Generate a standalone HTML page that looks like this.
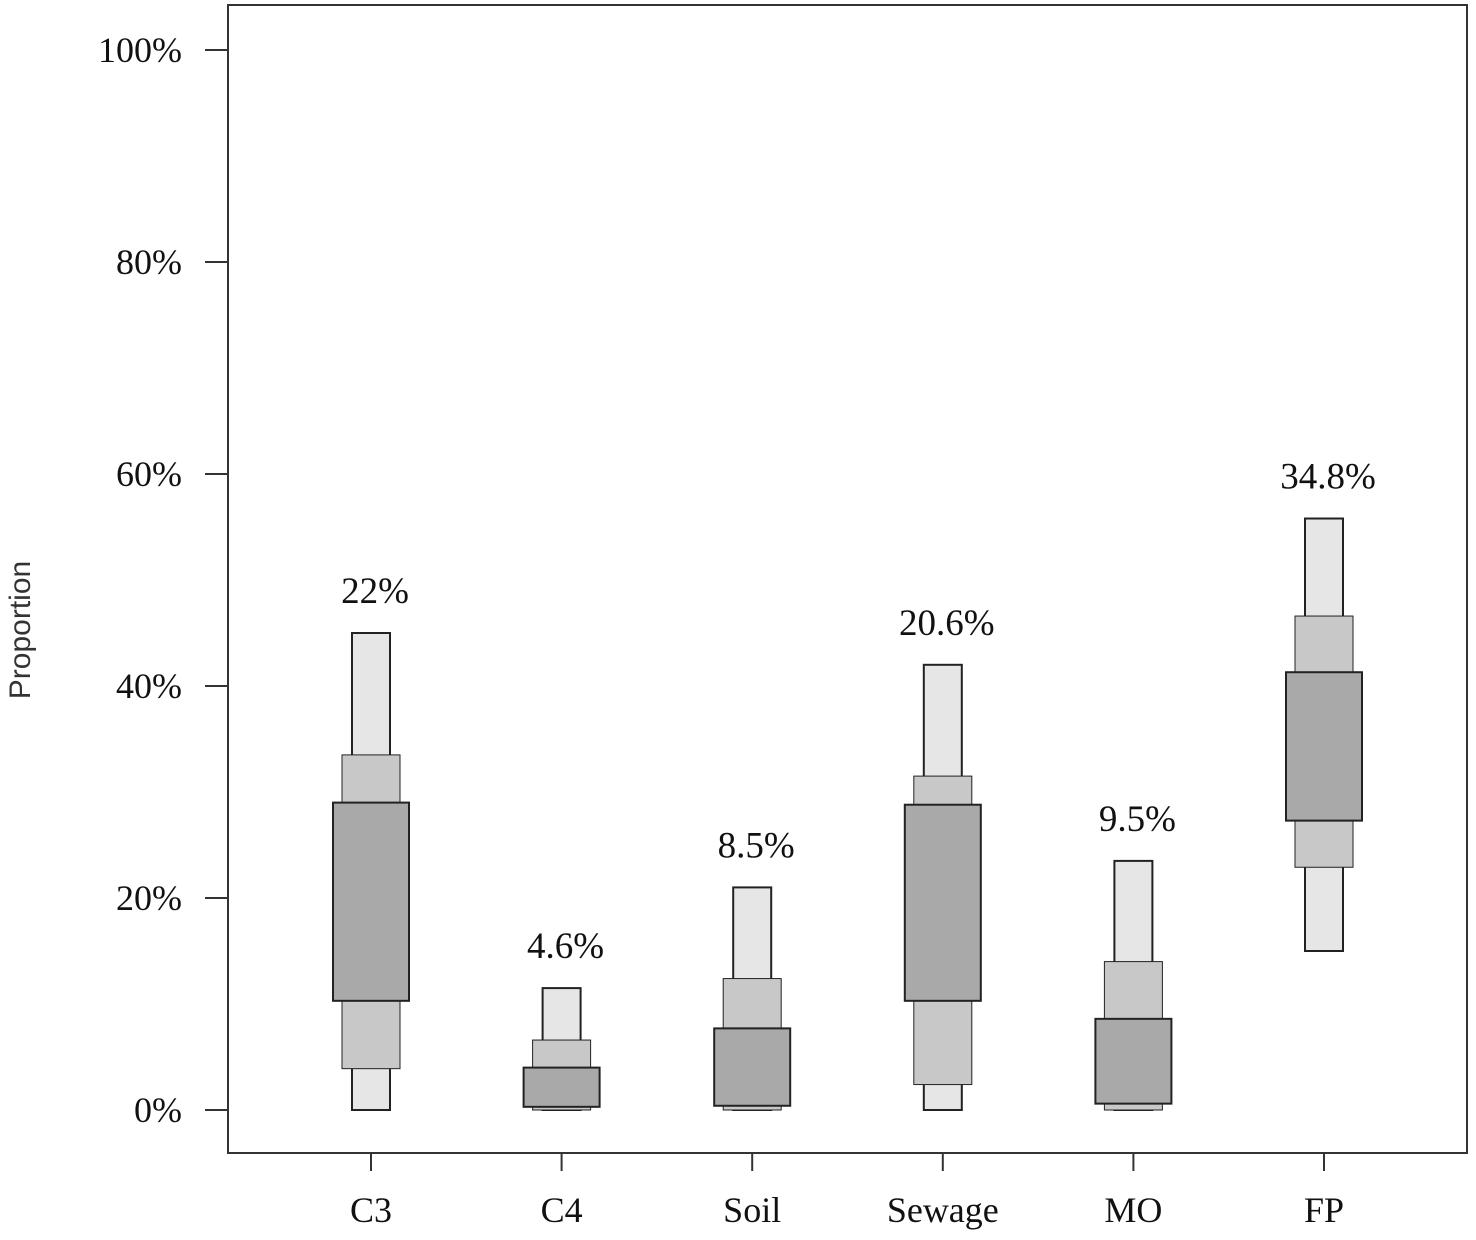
<!DOCTYPE html>
<html><head><meta charset="utf-8"><style>
html,body{margin:0;padding:0;background:#fff;}
svg{display:block;font-family:"Liberation Serif",serif;}
</style></head><body>
<svg id="chart" width="1476" height="1240">
<rect x="228" y="5" width="1239" height="1148" fill="none" stroke="#333" stroke-width="2"/>
<text x="30" y="630" transform="rotate(-90 30 630)" text-anchor="middle" font-family="Liberation Sans, sans-serif" font-size="30" fill="#333">Proportion</text>
<g id="yaxis"></g><g id="xaxis"></g><g id="boxes"></g>
</svg>
<script>
const categories=["C3","C4","Soil","Sewage","MO","FP"];
const labels=["22%","4.6%","8.5%","20.6%","9.5%","34.8%"];
const lo95=[0,0,0,0,0,15];
const hi95=[45,11.5,21,42,23.5,55.8];
const lo75=[3.9,0,0,2.4,0,22.9];
const hi75=[33.5,6.6,12.4,31.5,14,46.6];
const lo50=[10.3,0.3,0.4,10.3,0.6,27.3];
const hi50=[29,4,7.7,28.8,8.6,41.3];
const yTicks=[0,20,40,60,80,100];
const yTickLabels=["0%","20%","40%","60%","80%","100%"];

const NS="http://www.w3.org/2000/svg";
function y(v){return 1110-v*10.6;}
function x(i){return 371+i*190.6;}
function mk(tag,attrs,parent,text){const e=document.createElementNS(NS,tag);for(const k in attrs)e.setAttribute(k,attrs[k]);if(text!==undefined)e.textContent=text;parent.appendChild(e);return e;}
const ya=document.getElementById('yaxis'),xa=document.getElementById('xaxis'),bx=document.getElementById('boxes');
yTicks.forEach((t,i)=>{
  const l=mk('line',{x1:205,x2:228,y1:y(t),y2:y(t),stroke:'#333','stroke-width':2},ya);
  
  
  const tx=mk('text',{x:182,y:y(t)+12,'text-anchor':'end','font-size':36,fill:'#111'},ya,yTickLabels[i]);
  
  
});
categories.forEach((c,i)=>{
  const cx=x(i);
  const l=mk('line',{x1:cx,x2:cx,y1:1153,y2:1171,stroke:'#333','stroke-width':2},xa);
  
  
  const tx=mk('text',{x:cx,y:1222,'text-anchor':'middle','font-size':36,fill:'#111'},xa,c);
  
  
  const g=mk('g',{},bx);
  
  
  [[lo95,hi95,38,'#e6e6e6'],[lo75,hi75,58,'#c8c8c8'],[lo50,hi50,76,'#a9a9a9']].forEach(([lo,hi,w,f],k)=>{
    const r=mk('rect',{x:cx-w/2,y:y(hi[i]),width:w,height:y(lo[i])-y(hi[i]),fill:f,stroke:'#222','stroke-width':k==1?1:2},g);
    
    
  });
  const lt=mk('text',{x:cx+4,y:y(hi95[i])-30,'text-anchor':'middle','font-size':37,fill:'#111'},bx,labels[i]);
  
  
});
</script>
</body></html>
